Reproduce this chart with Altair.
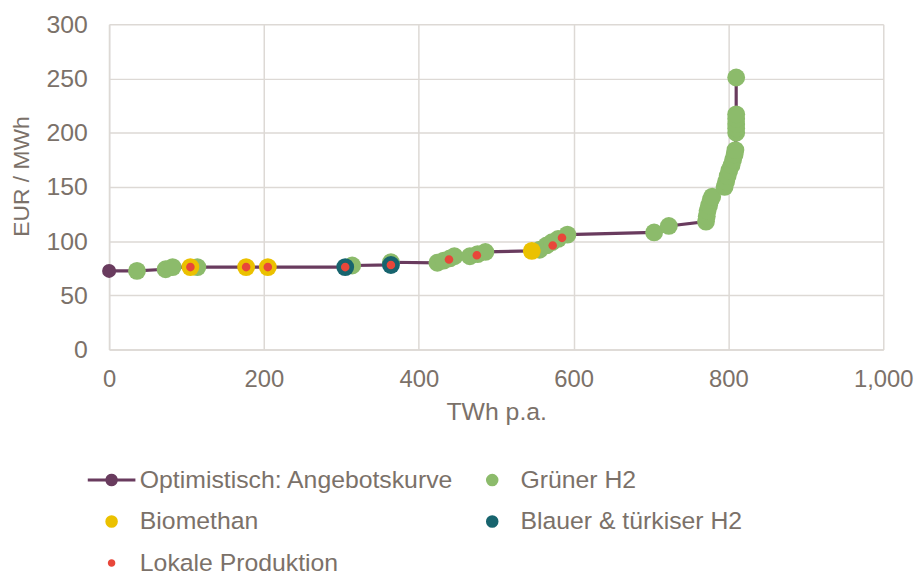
import altair as alt
import pandas as pd

# ---- data ----
serien = ["Optimistisch: Angebotskurve", "Grüner H2", "Biomethan",
          "Blauer & türkiser H2", "Lokale Produktion"]
farben = ["#693B5E", "#8CBB6B", "#EBC100", "#17646E", "#E8473A"]

start_x = [0]
start_y = [72.5]

gruen_x = [36, 73, 82, 114, 314, 364, 424, 432, 440, 446, 466, 476, 486,
           556, 565, 572, 580, 592, 704, 723, 771, 772, 773, 775, 777, 779,
           795, 797, 799, 801, 804, 806, 808, 809, 810, 810, 810, 810, 810, 810]
gruen_y = [72.5, 74, 76, 76, 77.5, 80.5, 80, 82, 84, 86, 86, 88, 90,
           92, 96, 99, 102, 106, 108, 114, 118, 123, 128, 133, 138, 141,
           150, 155, 160, 165, 170, 175, 180, 184, 200, 204, 208, 213, 217, 251]

bio_x = [105, 177, 205, 546]
bio_y = [76, 76, 76, 91]

blau_x = [305, 364]
blau_y = [76, 78]

lokal_x = [105, 177, 205, 305, 364, 439, 475, 573, 585]
lokal_y = [76, 76, 76, 76, 78, 83, 87, 96, 103]

x_ticks = [0, 200, 400, 600, 800, 1000]
y_ticks = [0, 50, 100, 150, 200, 250, 300]

# ---- tables ----
big = pd.concat([
    pd.DataFrame({"x": gruen_x, "y": gruen_y, "Serie": serien[1]}),
    pd.DataFrame({"x": bio_x, "y": bio_y, "Serie": serien[2]}),
    pd.DataFrame({"x": blau_x, "y": blau_y, "Serie": serien[3]}),
], ignore_index=True)
big["o"] = range(len(big))

small = pd.DataFrame({"x": lokal_x, "y": lokal_y, "Serie": serien[4]})

curve = pd.concat([
    pd.DataFrame({"x": start_x, "y": start_y}),
    big[["x", "y"]],
], ignore_index=True).sort_values(["x", "y"]).reset_index(drop=True)
curve["o"] = range(len(curve))

start = pd.DataFrame({"x": start_x, "y": start_y})

FONT = "Liberation Sans"
GRAY = "#7B7169"
GRID = "#DDD9D5"

line_sym = ("M-3.8,-0.24L-0.97,-0.24A1,1,0,0,1,0.97,-0.24L3.8,-0.24L3.8,0.24"
            "L0.97,0.24A1,1,0,0,1,-0.97,0.24L-3.8,0.24Z")
small_circ = "M0.6,0A0.6,0.6,0,1,1,-0.6,0A0.6,0.6,0,1,1,0.6,0Z"
formen = [line_sym, "circle", "circle", "circle", small_circ]

xenc = alt.X("x:Q", scale=alt.Scale(domain=[0, 1000], nice=False),
             axis=alt.Axis(title="TWh p.a.", values=x_ticks, format=",d",
                           labelPadding=18, labelFlush=False, labelFontSize=24,
                           titleY=63, titleBaseline="middle"))
yenc = alt.Y("y:Q", scale=alt.Scale(domain=[0, 300], nice=False),
             axis=alt.Axis(title="EUR / MWh", values=y_ticks, labelPadding=22,
                           titleX=-88, titleY=153, titleAlign="center",
                           titleBaseline="middle", titleAngle=-90,
                           titleFontSize=23))

leg = alt.Legend(title=None, orient="none", legendX=-10, legendY=447,
                 columns=2, direction="horizontal", symbolSize=160,
                 labelFontSize=25, labelColor=GRAY, labelFont=FONT,
                 labelOffset=16, labelLimit=500, rowPadding=16,
                 columnPadding=26, padding=0, symbolStrokeWidth=0,
                 gridAlign="each")

color = alt.Color("Serie:N", scale=alt.Scale(domain=serien, range=farben),
                  legend=leg, sort=serien)
shape = alt.Shape("Serie:N", scale=alt.Scale(domain=serien, range=formen),
                  legend=leg, sort=serien)

line = alt.Chart(curve).mark_line(strokeWidth=3.2, color=farben[0]).encode(
    x=xenc, y=yenc, order="o:Q")

startpt = alt.Chart(start).mark_point(filled=True, opacity=1, size=200,
                                      shape="circle", color=farben[0]).encode(
    x="x:Q", y="y:Q")

bigpts = alt.Chart(big).mark_point(filled=True, opacity=1, size=324,
                                   strokeWidth=0).encode(
    x="x:Q", y="y:Q", color=color, shape=shape, order="o:Q")

smallpts = alt.Chart(small).mark_point(filled=True, opacity=1, size=210,
                                       strokeWidth=0).encode(
    x="x:Q", y="y:Q", color=color, shape=shape)

chart = alt.layer(line, startpt, bigpts, smallpts).properties(
    width=781, height=328,
    autosize=alt.AutoSizeParams(type="none"),
    padding={"left": 102, "top": 14, "right": 32, "bottom": 225},
    background="white",
).configure_view(stroke=None).configure_axis(
    grid=True, gridColor=GRID, gridWidth=1.5, domainColor=GRID,
    domainWidth=1.5, ticks=False, labelFont=FONT, labelFontSize=25,
    labelColor=GRAY, titleFont=FONT, titleFontSize=25, titleColor=GRAY,
    titleFontWeight="normal",
)

chart.save("out.html", embed_options={"renderer": "svg", "actions": False})
